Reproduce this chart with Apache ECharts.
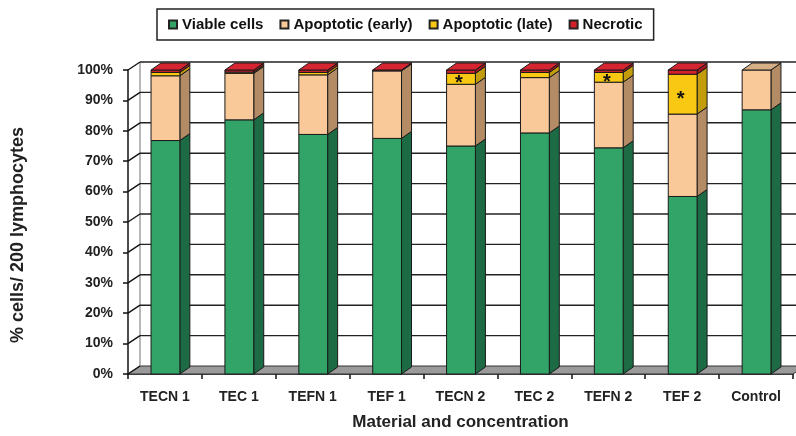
<!DOCTYPE html>
<html>
<head>
<meta charset="utf-8">
<script src="https://cdn.jsdelivr.net/npm/echarts@6/dist/echarts.min.js"></script>
<style>html,body{margin:0;padding:0;background:#fff}#c{width:796px;height:436px}</style>
</head>
<body>
<div id="c"></div>
<script>
const categories = ['TECN 1','TEC 1','TEFN 1','TEF 1','TECN 2','TEC 2','TEFN 2','TEF 2','Control'];
const viable   = [76.8, 83.6, 78.8, 77.5, 75.0, 79.3, 74.4, 58.4, 86.9];
const early    = [21.3, 15.3, 19.6, 22.2, 20.3, 18.2, 21.6, 27.1, 13.1];
const late     = [1.1, 0.4, 0.8, 0, 3.6, 1.7, 3.2, 13.1, 0];
const necrotic = [0.8, 0.7, 0.8, 0.3, 1.1, 0.8, 0.8, 1.4, 0];
const starred  = ['TECN 2','TEFN 2','TEF 2'];
const yTicks   = [0,10,20,30,40,50,60,70,80,90,100];

const FONT = 'Liberation Sans, Arial, sans-serif';
const segs = [
  {name:'Viable cells',        vals:viable,   front:'#32A468', side:'#1C6B44', top:'#3DB574'},
  {name:'Apoptotic (early)',   vals:early,    front:'#F9C999', side:'#B38C66', top:'#D6AF86'},
  {name:'Apoptotic (late)',    vals:late,     front:'#F8C813', side:'#C39C0C', top:'#F0C520'},
  {name:'Necrotic',            vals:necrotic, front:'#D3202B', side:'#A0161E', top:'#D52530'}
];

const DX = 10, DY = 7, WDX = 12, WDY = 8;

function makeSeries(g, si){
  const data = categories.map((c,i)=>{
    let base = 0; for(let k=0;k<si;k++) base += segs[k].vals[i];
    const topv = base + g.vals[i];
    let isTop = 1; for(let k=si+1;k<segs.length;k++) if(segs[k].vals[i]>0) isTop = 0;
    const star = (si===2 && starred.indexOf(c)>=0) ? 1 : 0;
    return [i, base, topv, isTop, star];
  });
  return {
    type:'custom', name:g.name, z:5,
    itemStyle:{color:g.front, borderColor:'#222', borderWidth:1},
    data:data,
    renderItem:function(params, api){
      const i = api.value(0), b = api.value(1), t = api.value(2);
      if (t - b <= 0) return null;
      const w = api.size([1,0])[0]*0.39;
      const pb = api.coord([i,b]), pt = api.coord([i,t]);
      const x0 = pb[0] - w/2 + 0.5, x1 = x0 + w, y0 = pb[1], y1 = pt[1];
      const ls = {stroke:'#1a1a1a', lineWidth:1, lineJoin:'round'};
      const children = [
        {type:'polygon', shape:{points:[[x1,y0],[x1+DX,y0-DY],[x1+DX,y1-DY],[x1,y1]]}, style:Object.assign({fill:g.side},ls)},
        {type:'rect', shape:{x:x0,y:y1,width:w,height:y0-y1}, style:Object.assign({fill:g.front},ls)}
      ];
      if (api.value(3)) children.push({type:'polygon', shape:{points:[[x0,y1],[x1,y1],[x1+DX,y1-DY],[x0+DX,y1-DY]]}, style:Object.assign({fill:g.top},ls)});
      if (api.value(4)) children.push({type:'text', style:{text:'*', x:x0+w/2-2, y:(y0+y1)/2+5, textAlign:'center', textVerticalAlign:'middle', font:'bold 20px '+FONT, fill:'#111'}});
      return {type:'group', children:children};
    }
  };
}

const frame = {
  type:'custom', name:'frame', z:1, silent:true,
  data: yTicks.map(v=>[0,v]),
  renderItem:function(params, api){
    const cs = params.coordSys;
    const v = api.value(1);
    const y = api.coord([0,v])[1];
    const gx = cs.x, gw = cs.width;
    const ch = [];
    if (v===0){
      const ytop = api.coord([0,100])[1];
      ch.push({type:'polygon', shape:{points:[[gx,y],[gx+gw,y],[gx+gw+WDX,y-WDY],[gx+WDX,y-WDY]]}, style:{fill:'#9a9a9a', stroke:'#333', lineWidth:1}});
      ch.push({type:'line', shape:{x1:gx+WDX,y1:y-WDY,x2:gx+WDX,y2:ytop-WDY}, style:{stroke:'#888', lineWidth:1.2}});
    } else {
      ch.push({type:'line', shape:{x1:gx+WDX,y1:y-WDY,x2:gx+gw+WDX+20,y2:y-WDY}, style:{stroke:'#222', lineWidth:1.4}});
    }
    ch.push({type:'line', shape:{x1:gx,y1:y,x2:gx+WDX,y2:y-WDY}, style:{stroke:'#111', lineWidth:1.4}});
    return {type:'group', children:ch};
  }
};

const chart = echarts.init(document.getElementById('c'), null, {renderer:'canvas'});
chart.setOption({
  animation:false,
  backgroundColor:'#fff',
  textStyle:{fontFamily:FONT},
  legend:{
    data:segs.map(g=>g.name), left:157, top:9, padding:[8,11,8,11], itemGap:16,
    itemWidth:8, itemHeight:8, icon:'rect',
    borderColor:'#222', borderWidth:1.5,
    textStyle:{fontFamily:FONT, fontWeight:'bold', fontSize:15, color:'#111'}
  },
  grid:{left:128, right:3, top:70, bottom:60},
  xAxis:{
    type:'category', data:categories,
    axisLine:{lineStyle:{color:'#111', width:1.5}},
    axisTick:{show:true, interval:0, length:5, lineStyle:{color:'#111', width:1.5}},
    axisLabel:{margin:16, fontFamily:FONT, fontWeight:'bold', fontSize:14, color:'#222'},
    name:'Material and concentration', nameLocation:'middle', nameGap:40,
    nameTextStyle:{fontFamily:FONT, fontWeight:'bold', fontSize:17, color:'#222'}
  },
  yAxis:{
    type:'value', min:0, max:100, interval:10,
    axisLine:{show:true, lineStyle:{color:'#111', width:1.5}},
    axisTick:{show:true, length:5, lineStyle:{color:'#111', width:1.5}},
    splitLine:{show:false},
    axisLabel:{margin:15, formatter:'{value}%', fontFamily:FONT, fontWeight:'bold', fontSize:14, color:'#222'}
  },
  graphic:[{type:'text', x:18, y:235, rotation:Math.PI/2, style:{text:'% cells/ 200 lymphocytes', font:'bold 18px '+FONT, fill:'#222', textAlign:'center', textVerticalAlign:'middle'}}],
  series:[frame].concat(segs.map(makeSeries))
});
</script>
</body>
</html>
